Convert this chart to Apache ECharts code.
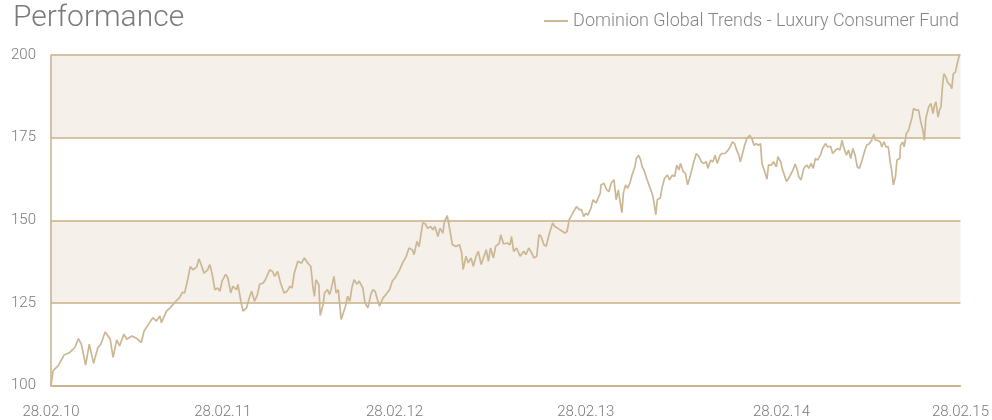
<!DOCTYPE html>
<html>
<head>
<meta charset="utf-8">
<script src="https://cdn.jsdelivr.net/npm/echarts@6/dist/echarts.min.js"></script>
<style>
  html, body { margin: 0; padding: 0; background: #fff; }
  #chart { width: 992px; height: 420px; }
</style>
</head>
<body>
<div id="chart"></div>
<script>
// trading day index since 28.02.10 and fund value (rebased to 100)
const tradingDay = [
  0, 3, 10, 18, 26, 33, 38, 42, 48, 53, 59, 65, 69, 75, 77, 82, 86, 91, 95, 101,
  105, 112, 119, 125, 129, 135, 141, 146, 151, 153, 160, 165, 169, 173, 178, 182, 185, 189, 191, 193,
  197, 202, 205, 208, 212, 217, 220, 223, 227, 231, 234, 237, 242, 245, 249, 252, 257, 259, 263, 266,
  271, 274, 278, 282, 286, 289, 294, 297, 301, 303, 307, 310, 314, 318, 323, 327, 331, 334, 337, 342,
  347, 351, 356, 360, 363, 365, 367, 371, 373, 377, 379, 383, 386, 388, 392, 395, 398, 402, 404, 408,
  411, 414, 417, 420, 424, 427, 432, 435, 439, 443, 446, 449, 453, 455, 460, 464, 469, 473, 478, 483,
  487, 492, 496, 501, 503, 507, 510, 515, 518, 522, 526, 529, 532, 536, 539, 543, 545, 549, 553, 556,
  561, 566, 569, 571, 575, 578, 582, 585, 589, 592, 596, 599, 603, 606, 609, 613, 616, 621, 623, 627,
  632, 636, 638, 641, 645, 650, 655, 658, 662, 666, 669, 673, 676, 679, 683, 686, 690, 695, 698, 702,
  705, 709, 712, 715, 718, 721, 724, 728, 732, 735, 738, 741, 744, 748, 751, 755, 758, 761, 762, 766,
  770, 773, 776, 780, 783, 786, 788, 791, 793, 796, 799, 802, 805, 809, 811, 814, 817, 819, 822, 826,
  828, 831, 834, 838, 840, 844, 847, 850, 854, 857, 861, 864, 867, 870, 872, 876, 879, 882, 886, 890,
  894, 898, 901, 904, 908, 910, 914, 917, 920, 923, 927, 930, 934, 938, 941, 944, 947, 950, 953, 955,
  957, 961, 964, 968, 971, 974, 977, 980, 983, 985, 988, 992, 994, 998, 1001, 1005, 1007, 1011, 1013, 1015,
  1019, 1022, 1024, 1028, 1031, 1034, 1036, 1039, 1043, 1047, 1050, 1053, 1056, 1059, 1062, 1066, 1069, 1073, 1076, 1080,
  1083, 1087, 1090, 1093, 1096, 1098, 1102, 1105, 1108, 1111, 1114, 1117, 1120, 1123, 1127, 1130, 1134, 1137, 1140, 1142,
  1145, 1149, 1151, 1154, 1157, 1160, 1163, 1165, 1167, 1170, 1172, 1176, 1177, 1180, 1182, 1185, 1188, 1190, 1193, 1195,
  1199, 1202, 1205, 1208, 1210, 1212, 1216, 1219, 1222, 1224, 1226, 1229, 1231, 1233, 1235, 1237, 1240, 1242, 1246, 1248,
  1250, 1253, 1256, 1260
];
const fundValue = [
  100, 104.5, 106, 109.2, 110, 111.5, 114.2, 112.5, 106.2, 112.5, 106.7, 111.5, 112.5, 116.2, 116.5, 114, 108.5, 113.8, 112, 115.5,
  114, 115, 114.2, 113, 116.5, 118.5, 120.5, 119.5, 121, 119, 122.5, 123.5, 124.5, 125.5, 126.5, 128.2, 128, 131.6, 131, 136,
  135, 136, 138.3, 136.6, 134, 135, 136.6, 134, 129, 129.5, 128.5, 131.6, 133.6, 132.6, 128, 130, 129, 130.6, 125.5, 122.5,
  123.5, 126, 128.5, 125.5, 127.5, 130.6, 131, 132, 134, 135, 134.5, 133, 134.5, 131, 128, 128.5, 130, 129.5, 134, 137.6,
  137, 138.6, 137, 136, 129.5, 127, 132, 130.6, 121.2, 124.5, 128, 129, 127.5, 129, 133, 128, 129, 120, 119.5, 124,
  127, 125.5, 129.8, 132, 130.6, 131.6, 129.5, 125, 123.5, 127.5, 129, 128.5, 125.5, 124, 126.5, 127.5, 129, 131.6, 133, 135,
  137, 139, 141.6, 141, 139.6, 143.6, 142, 149.2, 149, 147.6, 148.1, 147.1, 148.1, 145.1, 147.6, 146.1, 149.6, 151.4, 146.6, 142.6,
  142.1, 142.6, 140.1, 135.1, 139.1, 137.1, 138.6, 136.1, 139.1, 140.6, 136.6, 138.6, 141.1, 137.6, 141.6, 138.6, 142.1, 143, 145.6, 142.8,
  143.1, 142.6, 145.1, 140.6, 141.6, 139.1, 140.6, 139.6, 141.6, 140.1, 138.6, 139.1, 145.6, 145.1, 142.6, 142.1, 145.6, 149.2, 148.1, 147.6,
  147.1, 146.6, 146.1, 146.6, 150.2, 151.4, 152.6, 154.1, 153.2, 153.2, 151.1, 152.1, 151.6, 153.6, 156.2, 155.2, 156.7, 158.2, 160.7, 161.2,
  159.2, 158.7, 161.2, 162.2, 156.2, 159.2, 156.2, 152.3, 158.2, 160.7, 159.7, 161.2, 163.7, 166.2, 168.7, 169.7, 168.2, 166.2, 164.9, 162.2,
  162.7, 159.2, 157.2, 151.7, 156.2, 156.7, 160.2, 162.7, 163.7, 162.2, 163.7, 163.2, 166.7, 165.2, 167.2, 164.7, 164.2, 160.7, 163.7, 167.2,
  170.2, 169.2, 167.7, 167.2, 167.7, 165.7, 168.2, 167.7, 169.7, 167.2, 169.7, 170.2, 170.2, 171.2, 172.2, 173.7, 173.2, 171.2, 169.7, 167.7,
  169.2, 172.7, 174.7, 175.7, 174.7, 172.7, 173.2, 172.7, 173.2, 167.2, 165.2, 162.4, 166.7, 166.7, 167.7, 166.2, 169.2, 167.7, 165.7, 166.2,
  161.7, 162.7, 162.2, 165.2, 167, 165.2, 163.2, 162.2, 165.7, 166.7, 165.7, 167.2, 165.7, 168.7, 168.2, 169.7, 171.7, 173.2, 172.2, 172.4,
  170.2, 171.2, 171.7, 171.2, 174.2, 172.2, 169.7, 171.2, 168.7, 171.7, 169.7, 166.2, 165.7, 167.7, 170.7, 172.7, 173.2, 174.2, 176, 174.2,
  174.2, 173.7, 172.2, 173.7, 172.2, 172.2, 167.2, 164.7, 160.7, 163.2, 168.2, 168.7, 172.7, 173.7, 172.2, 176.2, 177.2, 177.7, 181.2, 183.8,
  183.3, 183.3, 179.8, 177.2, 174.2, 180.8, 184.3, 185.3, 182.3, 184.8, 185.8, 181.2, 183.3, 184.3, 190.3, 194.3, 193.3, 191.8, 190.8, 189.8,
  194.3, 194.8, 197.8, 201.3
];

// x axis tick labels and the trading day they sit on
const tickDays = [0, 238, 476, 741, 1012, 1260];
const tickLabels = ['28.02.10', '28.02.11', '28.02.12', '28.02.13', '28.02.14', '28.02.15'];
const yTicks = [100, 125, 150, 175, 200];

const seriesName = 'Dominion Global Trends - Luxury Consumer Fund';

const tan = '#c8b089';
const lineColor = '#cbb794';
const bandColor = '#f5f0ea';
const textColor = '#7a7a7a';
const fontFamily = 'Roboto, "Liberation Sans", sans-serif';

const chart = echarts.init(document.getElementById('chart'), null, { renderer: 'canvas' });

const option = {
  backgroundColor: '#fff',
  animation: false,
  title: {
    text: 'Performance',
    left: 8,
    top: -2,
    textStyle: {
      fontFamily: fontFamily,
      fontSize: 30,
      fontWeight: 300,
      color: textColor
    }
  },
  legend: {
    data: [seriesName],
    right: 28,
    top: 7,
    icon: 'rect',
    itemWidth: 24,
    itemHeight: 2,
    textStyle: {
      fontFamily: fontFamily,
      fontSize: 18,
      fontWeight: 300,
      color: '#858585'
    }
  },
  grid: {
    left: 51,
    right: 30,
    top: 55,
    bottom: 34.5
  },
  xAxis: {
    type: 'value',
    min: tickDays[0],
    max: tickDays[tickDays.length - 1],
    splitLine: { show: false },
    axisTick: { show: false },
    axisLine: { show: true, lineStyle: { color: tan, width: 1.5 } },
    axisLabel: {
      customValues: tickDays,
      margin: 19,
      fontFamily: fontFamily,
      fontSize: 15,
      fontWeight: 300,
      color: textColor,
      formatter: function (val) {
        const i = tickDays.indexOf(val);
        return i >= 0 ? tickLabels[i] : '';
      }
    }
  },
  yAxis: {
    type: 'value',
    min: yTicks[0],
    max: yTicks[yTicks.length - 1],
    interval: 25,
    axisTick: { show: false },
    axisLine: { show: true, lineStyle: { color: tan, width: 1.5 } },
    splitLine: { show: true, lineStyle: { color: tan, width: 1.5 } },
    splitArea: { show: true, areaStyle: { color: ['#ffffff', bandColor] } },
    axisLabel: {
      margin: 15,
      fontFamily: fontFamily,
      fontSize: 15,
      fontWeight: 300,
      color: textColor
    }
  },
  series: [{
    name: seriesName,
    type: 'line',
    data: tradingDay.map((d, i) => [d, fundValue[i]]),
    showSymbol: false,
    symbol: 'none',
    color: lineColor,
    lineStyle: { color: lineColor, width: 1.7 }
  }]
};

chart.setOption(option);
</script>
</body>
</html>
